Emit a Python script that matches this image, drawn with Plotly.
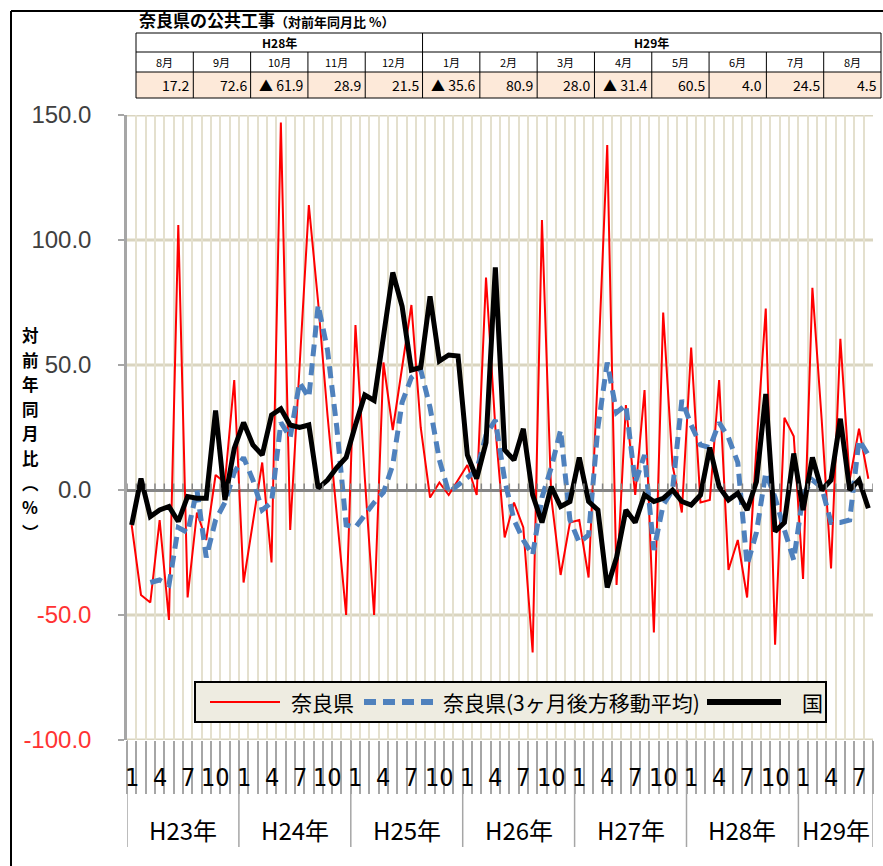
import plotly.graph_objects as go

# ---------------- data ----------------
year_names = ["H23年", "H24年", "H25年", "H26年", "H27年", "H28年", "H29年"]
months_per_year = [12, 12, 12, 12, 12, 12, 8]
month_tick_labels = {0: "1", 3: "4", 6: "7", 9: "10"}

# 奈良県 (monthly, yoy %), H23/1 .. H29/8
nara = [-14, -42, -45, -12, -52, 106, -43, -9, -20, 6, 3, 44,
        -37, -12, 11, -29, 147, -16, 48, 114, 75, 30, -10, -50,
        66, 5, -50, 51, 24, 50, 74, 25, -3, 3, -2, 4,
        10, -2, 85, 25, -19, -5, -15, -65, 108, -3, -34, -13,
        -12, -35, 47, 138, -38, 34, -2, 40, -57, 71, 10, -9,
        57, -5, -4, 44, -32, -20, -43, 17.2, 72.6, -61.9, 28.9, 21.5,
        -35.6, 80.9, 28.0, -31.4, 60.5, 4.0, 24.5, 4.5]

# 奈良県 (3ヶ月後方移動平均)
nara_ma3 = [None, None, -37, -36, -38, -15, -17, 0, -27, -12, -5, 7,
            13, 4, -8, -5, 27, 21, 43, 37, 74, 56, 25, -14,
            -15, -10, -5, -1, 10, 35, 45, 48, 33, 12, -1, 2,
            5, 8, 22, 28, 4, -12, -20, -26, -3, 9, 24, -12,
            -21, -18, 25, 51, 31, 34, 3, 14, -24, -6, 0, 36,
            26, 18, 17, 27, 21, 11, -30, -17, 7, -3, -16, -28,
            -2, 4, 1, -13, -13, -12, 20, 14]

# 国
kuni = [-14, 4.6, -10.6, -8, -6.6, -12.6, -2.6, -3.3, -3.3, 31.8, -4, 16.6,
        27, 18, 14, 30, 32.5, 26, 25, 26, 0.7, 4, 9, 13,
        26, 38, 35.8, 60, 87, 73.5, 48, 49, 77.5, 51.6, 54, 53.6,
        14, 4.6, 19, 89, 16, 12, 24.5, -2, -13, 1.3, -6.6, -4.6,
        13, -4.6, -8, -39, -27, -8, -13, -2, -4.6, -3.3, 0, -4.6,
        -6, -2, 17, 1.3, -4, -1.3, -8, 3.3, 38.4, -16.6, -13, 14.6,
        -8, 13, 0, 4, 28.5, 0, 4, -7.3]

series_names = ["奈良県", "奈良県(3ヶ月後方移動平均)", "国"]

y_tick_values = [-100, -50, 0, 50, 100, 150]

table_title = "奈良県の公共工事"
table_subtitle = "（対前年同月比 %）"
table_years = ["H28年", "H29年"]
table_year_spans = [5, 8]
table_months = ["8月", "9月", "10月", "11月", "12月", "1月", "2月", "3月",
                "4月", "5月", "6月", "7月", "8月"]
table_values = nara[-13:]

y_title_chars = ["対", "前", "年", "同", "月", "比", "︵", "%", "︶"]

# ---------------- geometry helpers ----------------
W, H = 883, 866
PL, PR, PT, PB = 127, 873, 115, 740


def px(xp):
    return (xp - PL) / (PR - PL)


def py(yp):
    return (PB - yp) / (PB - PT)


n = len(nara)
x = list(range(n))
boundaries = [i - 0.5 for i in range(n + 1)]

GRID_V = "#E4E0CE"
GRID_H = "#DAD5C0"
AXIS_GRAY = "#A6A6A6"
CJK = "Noto Sans CJK JP"
NARROW = "Liberation Sans Narrow, DejaVu Sans Condensed, Arial Narrow, sans-serif"

RED = "#FF0000"
BLUE = "#4F81BD"
BLACK = "#000000"
BLUE_DASH = "12px,7px"

fig = go.Figure()
fig.add_trace(go.Scatter(x=x, y=nara, mode="lines", name=series_names[0],
                         line=dict(color=RED, width=2)))
fig.add_trace(go.Scatter(x=x, y=nara_ma3, mode="lines", name=series_names[1],
                         line=dict(color=BLUE, width=5, dash=BLUE_DASH)))
fig.add_trace(go.Scatter(x=x, y=kuni, mode="lines", name=series_names[2],
                         line=dict(color=BLACK, width=5)))

shapes = []
annotations = []

# horizontal gridlines (drawn as shapes for a thicker beige line)
for v in y_tick_values:
    if v != 0:
        shapes.append(dict(type="line", xref="paper", yref="y", x0=0, x1=1, y0=v, y1=v,
                           line=dict(color=GRID_H, width=3), layer="below"))

# small tick marks on zero line
for b in boundaries:
    shapes.append(dict(type="line", xref="x", yref="y", x0=b, x1=b, y0=0, y1=2.6,
                       line=dict(color="#868686", width=1.5), layer="above"))

# year divider lines below the axis
start = 0
bounds_years = [-0.5]
for m in months_per_year:
    start += m
    bounds_years.append(start - 0.5)
for b in bounds_years:
    shapes.append(dict(type="line", xref="x", yref="paper", x0=b, x1=b,
                       y0=0, y1=py(847), line=dict(color=AXIS_GRAY, width=1.5)))

# month labels and year labels
start = 0
for yn, m in zip(year_names, months_per_year):
    for k in range(m):
        if k in month_tick_labels:
            annotations.append(dict(x=start + k, y=py(777), xref="x", yref="paper",
                                    text=month_tick_labels[k], showarrow=False,
                                    font=dict(family=NARROW, size=25, color="#000"),
                                    xanchor="center", yanchor="middle"))
    annotations.append(dict(x=start + (m - 1) / 2, y=py(829), xref="x", yref="paper",
                            text=yn, showarrow=False,
                            font=dict(family=CJK, size=24, color="#000"),
                            xanchor="center", yanchor="middle"))
    start += m

# y axis title (vertical, one character per annotation)
for j, ch in enumerate(y_title_chars):
    annotations.append(dict(x=px(30), y=py(335 + j * 24.6), xref="paper", yref="paper",
                            text="<b>" + ch + "</b>", showarrow=False,
                            font=dict(family=CJK, size=16.5, color="#000"),
                            xanchor="center", yanchor="middle"))

# outer frame (top and left)
shapes.append(dict(type="line", xref="paper", yref="paper", x0=px(11), x1=px(900),
                   y0=py(11), y1=py(11), line=dict(color="#000", width=2)))
shapes.append(dict(type="line", xref="paper", yref="paper", x0=px(11), x1=px(11),
                   y0=py(11), y1=py(900), line=dict(color="#000", width=2)))

# ---------------- legend (drawn box) ----------------
LG_L, LG_R, LG_T, LG_B = 195, 826, 682, 722
LG_Y = (LG_T + LG_B) / 2
shapes.append(dict(type="rect", xref="paper", yref="paper", x0=px(LG_L), x1=px(LG_R),
                   y0=py(LG_B), y1=py(LG_T), fillcolor="#EEECE1",
                   line=dict(color="#000", width=2), layer="above"))
legend_items = [
    (210, 280, RED, 2, "solid", 289, series_names[0]),
    (364, 434, BLUE, 6, BLUE_DASH, 441, series_names[1]),
    (707, 781, BLACK, 6, "solid", 800, series_names[2]),
]
for x0, x1, col, wd, dsh, tx, label in legend_items:
    shapes.append(dict(type="line", xref="paper", yref="paper", x0=px(x0), x1=px(x1),
                       y0=py(LG_Y), y1=py(LG_Y), line=dict(color=col, width=wd, dash=dsh),
                       layer="above"))
    annotations.append(dict(x=px(tx), y=py(LG_Y), xref="paper", yref="paper", text=label,
                            showarrow=False, font=dict(family=CJK, size=21, color="#000"),
                            xanchor="left", yanchor="middle"))

# ---------------- table ----------------
TL, TR = 136, 881
rows_y = [33, 52, 72, 98]
cw = (TR - TL) / len(table_months)
shapes.append(dict(type="rect", xref="paper", yref="paper", x0=px(TL), x1=px(TR),
                   y0=py(rows_y[3]), y1=py(rows_y[2]), fillcolor="#FDE9D9",
                   line=dict(width=0), layer="below"))
for ry in rows_y:
    shapes.append(dict(type="line", xref="paper", yref="paper", x0=px(TL), x1=px(TR),
                       y0=py(ry), y1=py(ry), line=dict(color="#000", width=1)))
for c in range(len(table_months) + 1):
    xx = TL + c * cw
    full = c in (0, len(table_months), table_year_spans[0])
    shapes.append(dict(type="line", xref="paper", yref="paper", x0=px(xx), x1=px(xx),
                       y0=py(rows_y[3]), y1=py(rows_y[0] if full else rows_y[1]),
                       line=dict(color="#000", width=1)))
c0 = 0
for yname, span in zip(table_years, table_year_spans):
    annotations.append(dict(x=px(TL + (c0 + span / 2) * cw), y=py((rows_y[0] + rows_y[1]) / 2),
                            xref="paper", yref="paper", text="<b>" + yname + "</b>",
                            showarrow=False, font=dict(family=CJK, size=12, color="#000"),
                            xanchor="center", yanchor="middle"))
    c0 += span
for c, (mname, v) in enumerate(zip(table_months, table_values)):
    annotations.append(dict(x=px(TL + (c + 0.5) * cw), y=py((rows_y[1] + rows_y[2]) / 2),
                            xref="paper", yref="paper", text=mname, showarrow=False,
                            font=dict(family=CJK, size=11, color="#000"),
                            xanchor="center", yanchor="middle"))
    txt = ("▲ " if v < 0 else "") + f"{abs(v):.1f}"
    annotations.append(dict(x=px(TL + (c + 1) * cw - 2), y=py((rows_y[2] + rows_y[3]) / 2),
                            xref="paper", yref="paper", text=txt, showarrow=False,
                            font=dict(family=CJK, size=14, color="#000"),
                            xanchor="right", yanchor="middle"))
annotations.append(dict(x=px(137), y=py(19), xref="paper", yref="paper",
                        text="<b>" + table_title + "</b><b><span style='font-size:13px'>"
                        + table_subtitle + "</span></b>",
                        showarrow=False, font=dict(family=CJK, size=17, color="#000"),
                        xanchor="left", yanchor="middle"))

# y tick labels (negative values in red)
y_tick_text = []
for v in y_tick_values:
    s = f"{v:.1f}"
    if v < 0:
        s = "<span style='color:#FF3333'>" + s + "</span>"
    y_tick_text.append(s)

fig.update_layout(
    width=W, height=H,
    margin=dict(l=PL, r=W - PR, t=PT, b=H - PB, pad=0),
    paper_bgcolor="white", plot_bgcolor="white",
    showlegend=False,
    xaxis=dict(range=[-0.5, n - 0.5], tickmode="array", tickvals=boundaries,
               showticklabels=False, showgrid=True, gridcolor=GRID_V, gridwidth=2,
               ticks="outside", ticklen=53, tickcolor=AXIS_GRAY, tickwidth=1.5,
               showline=False, zeroline=False, fixedrange=True),
    yaxis=dict(range=[-100, 150], tickmode="array", tickvals=y_tick_values,
               ticktext=y_tick_text, showgrid=False,
               zeroline=True, zerolinecolor="#868686", zerolinewidth=2.5,
               showline=True, linecolor=AXIS_GRAY, linewidth=2.5,
               ticks="outside", ticklen=6, tickcolor=AXIS_GRAY, tickwidth=2,
               ticklabelstandoff=22,
               tickfont=dict(family="Liberation Sans, Arial, sans-serif", size=24,
                             color="#404040"),
               fixedrange=True),
    shapes=shapes,
    annotations=annotations,
)

fig.write_html("out.html", config={"displayModeBar": False},
               post_script="document.body.style.margin='0';document.body.style.overflow='hidden';")
